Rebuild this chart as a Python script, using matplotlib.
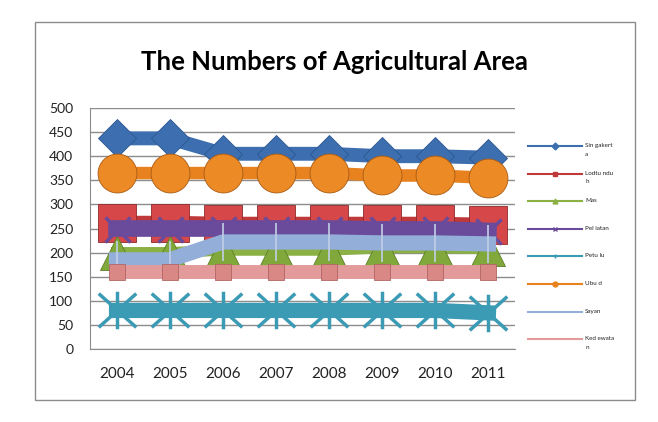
import matplotlib.pyplot as plt
import matplotlib.patches as mpatches
from matplotlib.lines import Line2D
from matplotlib.path import Path

years = ["2004", "2005", "2006", "2007", "2008", "2009", "2010", "2011"]
singakerta = [437, 437, 405, 405, 405, 400, 400, 397]
lodtunduh = [262, 262, 260, 260, 260, 260, 260, 258]
mas = [200, 200, 205, 205, 205, 210, 210, 208]
peliatan = [250, 250, 250, 250, 250, 248, 248, 245]
petulu = [80, 80, 80, 80, 80, 80, 80, 75]
ubud = [365, 365, 365, 365, 365, 360, 360, 355]
sayan = [185, 185, 222, 222, 222, 220, 220, 218]
kedewatan = [160, 160, 160, 160, 160, 160, 160, 160]

labels = ["Sin gakert\na", "Lodtu ndu\nh", "Mas", "Pel iatan", "Petu lu", "Ubu d", "Sayan", "Ked ewata\nn"]
colors = ["#3d6fb0", "#c0393a", "#8bb044", "#6a4a9a", "#3b9ab4", "#e8821f", "#93aed8", "#e29a9a"]

# asterisk marker like the Excel one: an X plus a vertical bar
star = Path([(-1, -0.9), (1, 0.9), (-1, 0.9), (1, -0.9), (0, -1), (0, 1)],
            [Path.MOVETO, Path.LINETO, Path.MOVETO, Path.LINETO, Path.MOVETO, Path.LINETO])

plt.rcParams['font.family'] = ['Lato', 'DejaVu Sans']
fig = plt.figure(figsize=(6.58, 4.22), dpi=100)
fig.patches.append(mpatches.Rectangle((35/658, 1-400/422), 600/658, 378/422,
                                      transform=fig.transFigure, fill=False,
                                      edgecolor="#8c8c8c", linewidth=1))
ax = fig.add_axes([90/658, 1-349/422, 425/658, 241/422])
x = list(range(len(years)))

ax.plot(x, singakerta, color=colors[0], linewidth=10, marker="D", markersize=19,
        markerfacecolor=colors[0], markeredgecolor="#2b5590", markeredgewidth=0.6)
ax.plot(x, lodtunduh, color=colors[1], linewidth=10, marker="s", markersize=27,
        markerfacecolor="#d6474a", markeredgecolor="#8e2a2b", markeredgewidth=0.6)
ax.plot(x, mas, color=colors[2], linewidth=8, marker="^", markersize=24,
        markerfacecolor="#80a83a", markeredgecolor="#5d7f27", markeredgewidth=0.6)
ax.plot(x, peliatan, color=colors[3], linewidth=12, marker="x", markersize=18,
        markeredgewidth=2.5, markeredgecolor=colors[3])
ax.plot(x, petulu, color=colors[4], linewidth=11, marker=star, markersize=27,
        markeredgewidth=2.5, markeredgecolor=colors[4])
ax.plot(x, ubud, color=colors[5], linewidth=9, marker="o", markersize=28,
        markerfacecolor="#ec8a25", markeredgecolor="#a85a12", markeredgewidth=0.6)
ax.plot(x, sayan, color=colors[6], linewidth=11, marker="|", markersize=28,
        markeredgewidth=1.2, markeredgecolor="#c2cfe6")
ax.plot(x, kedewatan, color=colors[7], linewidth=10, marker="s", markersize=11,
        markerfacecolor="#d98886", markeredgecolor="#b06664", markeredgewidth=0.6)

ax.set_xlim(-0.5, 7.5)
ax.set_ylim(0, 500)
ax.set_yticks(range(0, 501, 50))
ax.set_xticks(x)
ax.set_xticklabels(years)
ax.tick_params(axis="y", labelsize=10, length=0, colors="#222222", pad=12)
ax.tick_params(axis="x", labelsize=11, length=0, colors="#222222", pad=13)
ax.grid(axis="y", color="#8c8c8c", linewidth=1)
ax.set_axisbelow(True)
for s in ["top", "right"]:
    ax.spines[s].set_visible(False)
for s in ["left", "bottom"]:
    ax.spines[s].set_color("#8c8c8c")

fig.text(334/658, 1-62/422, "The Numbers of Agricultural Area", ha="center", va="center",
         fontsize=18.5, fontweight="bold")

# legend drawn by hand so that the spacing matches
markers_leg = ["D", "s", "^", "x", "+", "o", None, None]
for i, (lab, c, m) in enumerate(zip(labels, colors, markers_leg)):
    yy = 1 - (146 + 27.6 * i) / 422
    fig.add_artist(Line2D([528/658, 582/658], [yy, yy], transform=fig.transFigure,
                          color=c, linewidth=1.5))
    if m is not None:
        fig.add_artist(Line2D([555/658], [yy], transform=fig.transFigure, color=c,
                              marker=m, markersize=3.5, linewidth=0))
    fig.text(585/658, yy + 3/422, lab, ha="left", va="top", fontsize=4.5,
             linespacing=1.9, color="#222222")

plt.savefig("out.png", dpi=100)
